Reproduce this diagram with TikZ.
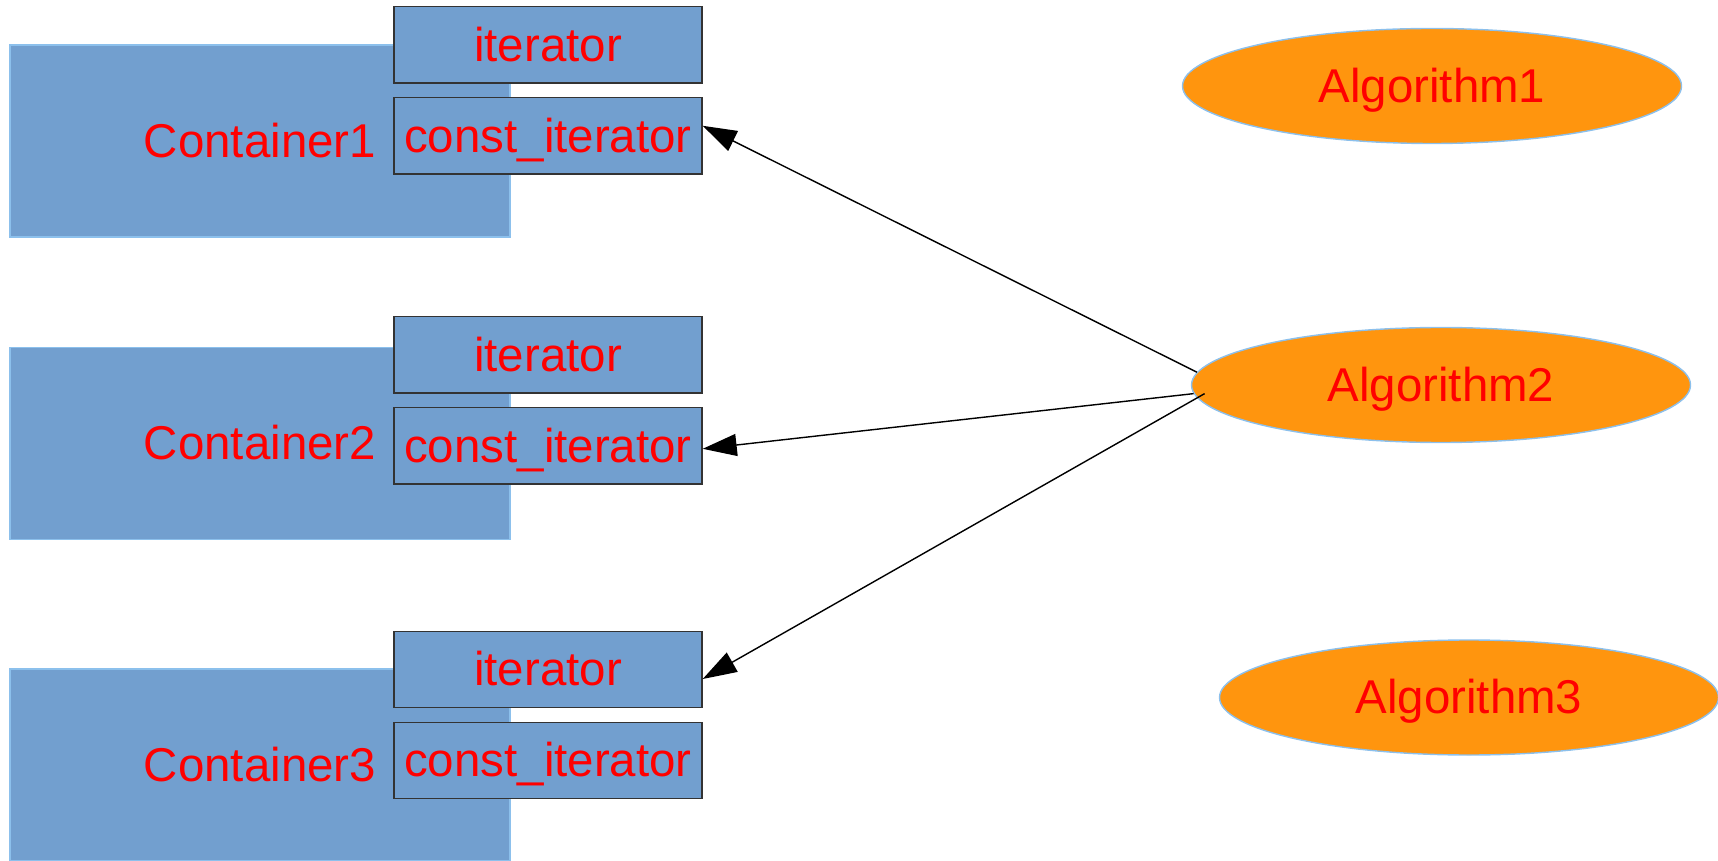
\documentclass[tikz,border=0pt]{standalone}
\usepackage{fontspec}
\setmainfont{Liberation Sans}
\usetikzlibrary{arrows.meta,shapes.geometric}
\definecolor{boxblue}{HTML}{729FCF}
\definecolor{edgeblue}{HTML}{8CC0EC}
\definecolor{algorange}{HTML}{FF950E}

\begin{document}
\begin{tikzpicture}[
        label text/.style={text=red, font=\fontsize{13.5}{16}\selectfont,
            text height=12.2pt, text depth=2.9pt},
        container/.style={rectangle, fill=boxblue, draw=edgeblue, line width=0.4pt,
            minimum width=5cm, minimum height=1.92cm, inner sep=0pt, label text},
        itbox/.style={rectangle, fill=boxblue, draw=black!80, line width=0.4pt,
            minimum width=3.08cm, minimum height=0.765cm, inner sep=0pt, label text},
        algo/.style={ellipse, fill=algorange, draw=edgeblue, line width=0.4pt,
            minimum width=4.99cm, minimum height=1.15cm, inner sep=0pt, label text},
        uses/.style={-{Triangle[length=0.34cm, width=0.22cm]}, line width=0.4pt}
    ]
        \useasboundingbox (0, 0) rectangle (17.18, 8.6);

        \node[container] (cont1) at (2.6, 7.19) {Container1};
        \node[container] (cont2) at (2.6, 4.165) {Container2};
        \node[container] (cont3) at (2.6, 0.95) {Container3};

        \node[itbox] (iter1) at (5.48, 8.152) {iterator};
        \node[itbox] (citer1) at (5.48, 7.242) {const\_iterator};
        \node[itbox] (iter2) at (5.48, 5.053) {iterator};
        \node[itbox] (citer2) at (5.48, 4.142) {const\_iterator};
        \node[itbox] (iter3) at (5.48, 1.905) {iterator};
        \node[itbox] (citer3) at (5.48, 0.995) {const\_iterator};

        \node[algo] (alg1) at (14.32, 7.74) {Algorithm1};
        \node[algo] (alg2) at (14.41, 4.75) {Algorithm2};
        \node[algo] (alg3) at (14.69, 1.625) {Algorithm3};

        \draw[uses] (alg2.177.5) -- ([yshift=0.1cm]citer1.east);
        \draw[uses] (alg2.182) -- ([yshift=-0.03cm]citer2.east);
        \draw[uses] ([xshift=0.11cm]alg2.182) -- ([yshift=-0.095cm]iter3.east);
    \end{tikzpicture}
\end{document}
